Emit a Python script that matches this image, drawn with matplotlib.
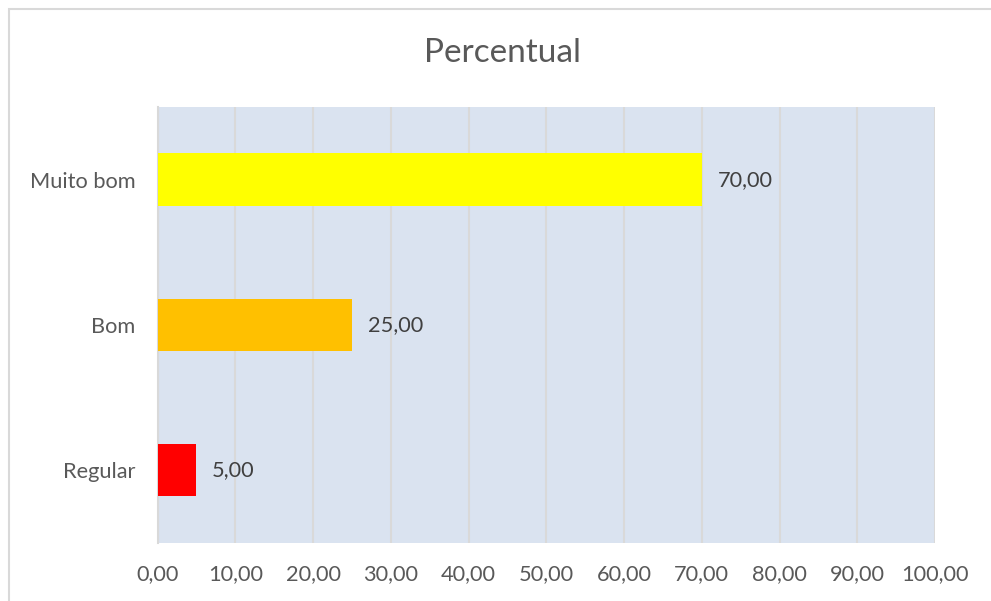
import matplotlib.pyplot as plt
from matplotlib.patches import Rectangle

categorias = ['Regular', 'Bom', 'Muito bom']
percentual = [5.00, 25.00, 70.00]
cores = ['#FF0000', '#FFC000', '#FFFF00']
ticks_x = [0, 10, 20, 30, 40, 50, 60, 70, 80, 90, 100]

plt.rcParams['font.family'] = ['Lato', 'DejaVu Sans']
cinza = '#595959'

fig = plt.figure(figsize=(9.91, 6.01), dpi=100)
# moldura do gráfico
fig.patches.append(Rectangle((9 / 991, -0.1), 1.2, 1 - 8.5 / 601 + 0.1,
                             transform=fig.transFigure, fill=False,
                             edgecolor='#D9D9D9', linewidth=1.5))

ax = fig.add_axes([0.159, 0.0973, 0.7846, 0.7246])
ax.set_facecolor('#DAE3F0')
pos = list(range(len(categorias)))
ax.barh(pos, percentual, height=0.36, color=cores, zorder=3)

for y, v in zip(pos, percentual):
    ax.text(v + 2, y, f'{v:.2f}'.replace('.', ','), va='center', ha='left',
            fontsize=15.7, color='#404040', zorder=4)

ax.set_xlim(0, 100)
ax.set_ylim(-0.5, 2.5)
ax.set_xticks(ticks_x)
ax.set_xticklabels([f'{t:.2f}'.replace('.', ',') for t in ticks_x])
ax.set_yticks(pos)
ax.set_yticklabels(categorias)
ax.tick_params(length=0, labelsize=15.7, labelcolor=cinza)
ax.tick_params(axis='x', pad=15.5)
ax.tick_params(axis='y', pad=16)
ax.grid(axis='x', color='#D9D9D9', linewidth=1.5, zorder=1)
for s in ['top', 'bottom', 'right']:
    ax.spines[s].set_visible(False)
ax.spines['left'].set_color('#D9D9D9')
ax.spines['left'].set_linewidth(1.5)

fig.text(0.5075, 0.912, 'Percentual', ha='center', va='center',
         fontsize=24, color=cinza)

fig.savefig('out.png', dpi=100)
